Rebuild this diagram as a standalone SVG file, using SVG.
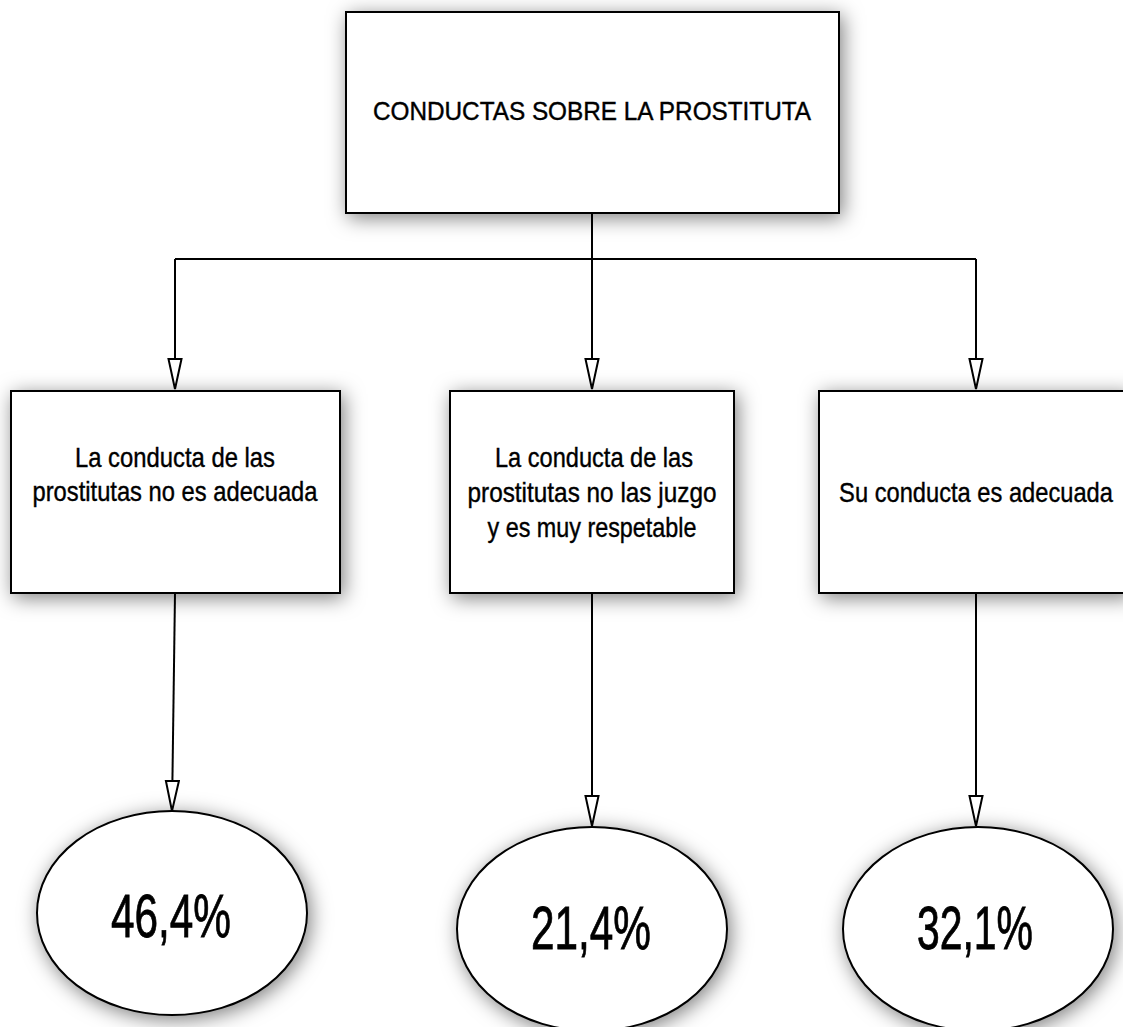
<svg xmlns="http://www.w3.org/2000/svg" width="1123" height="1027" viewBox="0 0 1123 1027">
  <style>
    .box { fill: #ffffff; stroke: #000000; stroke-width: 2; filter: url(#shadow); }
    .conn { fill: none; stroke: #000000; stroke-width: 2; }
    .t { font-family: "Liberation Sans Narrow", "Liberation Sans", Arial, sans-serif; fill: #000000; stroke: #000000; stroke-width: 0.4; text-anchor: middle; }
    .title { font-size: 25px; }
    .lbl { font-size: 28px; }
    .pct { font-size: 62px; stroke-width: 0.8; }
  </style>
  <defs>
    <filter id="shadow" x="-20%" y="-30%" width="140%" height="160%">
      <feDropShadow dx="3" dy="4" stdDeviation="10" flood-color="#000000" flood-opacity="0.5"/>
    </filter>
    <marker id="arrow" markerUnits="userSpaceOnUse" viewBox="-32 -8 34 16" markerWidth="34" markerHeight="16" refX="0" refY="0" orient="auto">
      <path d="M-30,-6.5 L0,0 L-30,6.5 Z" fill="#ffffff" stroke="#000000" stroke-width="2" stroke-linejoin="miter"/>
    </marker>
  </defs>
  <rect width="1123" height="1027" fill="#ffffff"/>

  <g id="n-title">
    <rect class="box" x="346" y="12" width="493" height="201"/>
    <text class="t title" x="592" y="120" textLength="438" lengthAdjust="spacingAndGlyphs">CONDUCTAS SOBRE LA PROSTITUTA</text>
  </g>

  <g id="n-left">
    <rect class="box" x="11" y="391" width="329" height="202"/>
    <text class="t lbl" x="175" y="467" textLength="200" lengthAdjust="spacingAndGlyphs">La conducta de las</text>
    <text class="t lbl" x="175" y="501" textLength="285" lengthAdjust="spacingAndGlyphs">prostitutas no es adecuada</text>
  </g>

  <g id="n-mid">
    <rect class="box" x="450" y="391" width="284" height="202"/>
    <text class="t lbl" x="594" y="467" textLength="198" lengthAdjust="spacingAndGlyphs">La conducta de las</text>
    <text class="t lbl" x="592" y="502" textLength="249" lengthAdjust="spacingAndGlyphs">prostitutas no las juzgo</text>
    <text class="t lbl" x="592" y="537" textLength="209" lengthAdjust="spacingAndGlyphs">y es muy respetable</text>
  </g>

  <g id="n-right">
    <rect class="box" x="819" y="391" width="310" height="202"/>
    <text class="t lbl" transform="translate(976 502) scale(0.846 1)" x="0" y="0">Su conducta es adecuada</text>
  </g>

  <g id="n-p1">
    <ellipse class="box" cx="172" cy="913" rx="135" ry="102"/>
    <text class="t pct" x="171" y="937" textLength="120" lengthAdjust="spacingAndGlyphs">46,4%</text>
  </g>

  <g id="n-p2">
    <ellipse class="box" cx="592" cy="929" rx="135" ry="102"/>
    <text class="t pct" x="591" y="949" textLength="120" lengthAdjust="spacingAndGlyphs">21,4%</text>
  </g>

  <g id="n-p3">
    <ellipse class="box" cx="978" cy="929" rx="135" ry="102"/>
    <text class="t pct" x="975" y="949" textLength="116" lengthAdjust="spacingAndGlyphs">32,1%</text>
  </g>

  <g id="connectors">
    <path class="conn" d="M175 259 H976"/>
    <path class="conn" d="M592 213 V389" marker-end="url(#arrow)"/>
    <path class="conn" d="M175 259 V389" marker-end="url(#arrow)"/>
    <path class="conn" d="M976 259 V389" marker-end="url(#arrow)"/>
    <path class="conn" d="M175 593 L172 811" marker-end="url(#arrow)"/>
    <path class="conn" d="M592 593 V826" marker-end="url(#arrow)"/>
    <path class="conn" d="M976 593 V826" marker-end="url(#arrow)"/>
  </g>
</svg>
